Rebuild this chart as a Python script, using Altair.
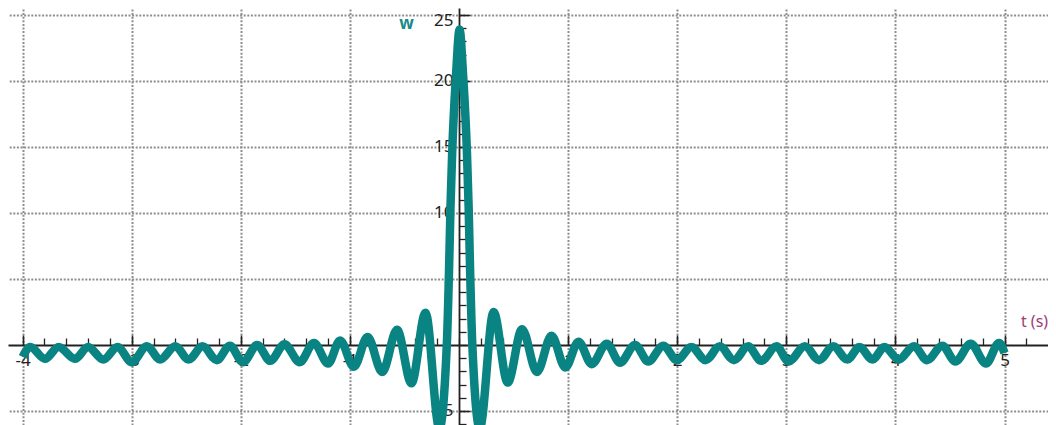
import altair as alt
import pandas as pd

# ---- data (t in s, w) ----
t_vals = [
    -4.00, -3.93, -3.795, -3.67, -3.52, -3.40, -3.26, -3.13, -3.00, -2.86,
    -2.74, -2.60, -2.48, -2.35, -2.22, -2.10, -1.98, -1.85, -1.73, -1.60,
    -1.46, -1.33, -1.20, -1.09, -0.964, -0.838, -0.704, -0.568, -0.436, -0.307,
    -0.18, -0.112, -0.092, -0.078, -0.063, -0.027, 0.005, 0.037, 0.073, 0.088,
    0.102, 0.122, 0.19, 0.317, 0.446, 0.578, 0.714, 0.848, 0.974, 1.095,
    1.216, 1.354, 1.476, 1.613, 1.735, 1.873, 1.998, 2.13, 2.26, 2.39,
    2.52, 2.65, 2.77, 2.91, 3.02, 3.17, 3.30, 3.43, 3.56, 3.67,
    3.79, 3.90, 4.03, 4.17, 4.29, 4.43, 4.55, 4.69, 4.83, 4.95,
    5.00,
]
w_vals = [
    -0.9, -0.15, -1.05, -0.15, -1.05, -0.15, -1.1, -0.15, -1.3, -0.1,
    -1.1, -0.1, -1.1, -0.1, -1.15, -0.05, -1.3, 0.0, -1.2, 0.05,
    -1.3, 0.15, -1.4, 0.35, -1.65, 0.6, -2.05, 1.15, -2.9, 2.45,
    -6.3, 0.0, 5.5, 10.5, 14.5, 20.5, 23.9, 20.5, 14.5, 10.5,
    5.5, 0.0, -6.3, 2.5, -2.85, 1.2, -2.05, 0.7, -1.7, 0.25,
    -1.45, 0.1, -1.35, 0.0, -1.25, -0.05, -1.15, -0.15, -1.15, -0.1,
    -1.15, -0.1, -1.2, -0.1, -1.25, -0.1, -1.15, -0.1, -1.1, -0.15,
    -1.1, -0.15, -1.1, -0.1, -1.15, -0.05, -1.25, 0.1, -1.4, 0.15,
    -0.6,
]

x_major = [-4, -3, -2, -1, 1, 2, 3, 4, 5]
x_minor = [round(-4 + 0.2 * i, 1) for i in range(48)]
y_major = [-5, 5, 10, 15, 20, 25]
y_minor = list(range(-6, 26))

df = pd.DataFrame({"t": t_vals, "w": w_vals})

FONT = "Noto Sans"
W, H = 1040, 417
PX_T = 109.1   # pixels per second
PX_W = 13.2    # pixels per unit of w
T_LEFT = -4.134
W_TOP = 25.53
T_DOMAIN = [T_LEFT, T_LEFT + W / PX_T]
W_DOMAIN = [W_TOP - H / PX_W, W_TOP]
X0 = 451   # pixel of t = 0 inside the plot
Y0 = 337   # pixel of w = 0 inside the plot
GRID = dict(grid=True, gridColor="#8e8e8e", gridDash=[2, 1.6], gridWidth=2)

x_scale = alt.Scale(domain=T_DOMAIN, nice=False, zero=False)
y_scale = alt.Scale(domain=W_DOMAIN, nice=False, zero=False)

x_axis_major = alt.Axis(
    orient="top", offset=-Y0, values=x_major, tickSize=10, tickWidth=1.5,
    tickColor="#222", domainColor="#222", domainWidth=1.8,
    labelPadding=-17, labelBaseline="top", labelAlign="center",
    labelExpr="toString(datum.value)",
    labelFont=FONT, labelFontSize=17, labelColor="#222",
    labelFlush=False, labelOverlap=False,
    title="t (s)", titleX=1026, titleY=-24, titleAlign="center",
    titleBaseline="middle", titleAngle=0, titleColor="#9c3d78",
    titleFont=FONT, titleFontSize=16, titleFontWeight="normal",
    **GRID,
)
y_axis_major = alt.Axis(
    orient="right", offset=X0 - W, values=y_major, tickSize=11, tickWidth=1.5,
    tickColor="#222", domainColor="#222", domainWidth=1.8,
    labelPadding=-17, labelAlign="right", labelBaseline="middle",
    labelOffset={"condition": {"test": "datum.value == 25", "value": 6}, "value": 0},
    labelExpr="toString(datum.value)",
    labelFont=FONT, labelFontSize=17, labelColor="#222",
    labelFlush=False, labelOverlap=False,
    title="w", titleX=-53, titleY=15, titleAlign="center",
    titleBaseline="middle", titleAngle=0, titleColor="#178a8a",
    titleFont=FONT, titleFontSize=17, titleFontWeight="bold",
    **GRID,
)
x_axis_minor = alt.Axis(
    orient="top", offset=-Y0, values=x_minor, tickSize=7, tickWidth=1.3,
    tickColor="#222", domain=False, labels=False, grid=False, title=None,
)
y_axis_minor = alt.Axis(
    orient="right", offset=X0 - W, values=y_minor, tickSize=7, tickWidth=1.3,
    tickColor="#222", domain=False, labels=False, grid=False, title=None,
)

curve = alt.Chart(df).mark_line(
    color="#0a8383", strokeWidth=8.5, interpolate="monotone", clip=True
).encode(
    x=alt.X("t:Q", scale=x_scale, axis=x_axis_major),
    y=alt.Y("w:Q", scale=y_scale, axis=y_axis_major),
    order="t:Q",
)

minor = alt.Chart(df).mark_line(opacity=0).encode(
    x=alt.X("t:Q", scale=x_scale, axis=x_axis_minor),
    y=alt.Y("w:Q", scale=y_scale, axis=y_axis_minor),
)

chart = (
    alt.layer(minor, curve)
    .resolve_axis(x="independent", y="independent")
    .properties(width=W, height=H, autosize=alt.AutoSizeParams(type="none"), padding=0,
                background="white")
    .configure_view(strokeWidth=0)
)

chart.save("out.html", embed_options={"renderer": "svg", "actions": False})
